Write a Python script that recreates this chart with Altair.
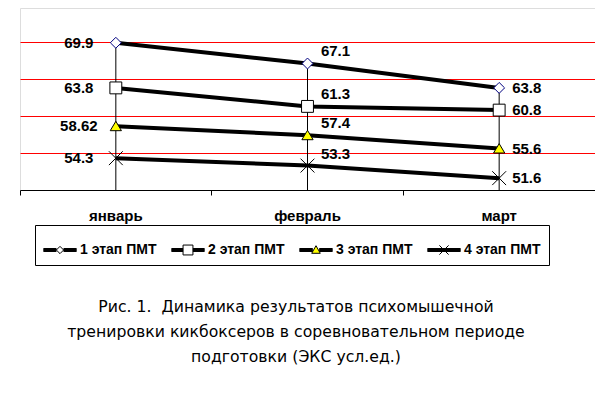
import altair as alt
import pandas as pd

months = ["январь", "февраль", "март"]
series = ["1 этап ПМТ", "2 этап ПМТ", "3 этап ПМТ", "4 этап ПМТ"]
stage1 = [69.9, 67.1, 63.8]
stage2 = [63.8, 61.3, 60.8]
stage3 = [58.62, 57.4, 55.6]
stage4 = [54.3, 53.3, 51.6]
caption = [
    "Рис. 1.\u00a0 Динамика результатов психомышечной",
    "тренировки кикбоксеров в соревновательном периоде",
    "подготовки (ЭКС усл.ед.)",
]

rows = []
for s, vals in zip(series, [stage1, stage2, stage3, stage4]):
    for m, v in zip(months, vals):
        rows.append({"month": m, "series": s, "value": v, "label": f"{v:g}"})
df = pd.DataFrame(rows)

FONT = "Liberation Sans"

# chart markers (custom symbol paths)
diamond = "M0,-0.33L0.33,0L0,0.33L-0.33,0Z"
square = "M-0.36,-0.36H0.36V0.36H-0.36Z"
triangle = "M0,-0.3L0.34,0.27L-0.34,0.27Z"
xmark = "M-0.42,-0.42L0.42,0.42M-0.42,0.42L0.42,-0.42"


def bar(x0, x1):
    # thick legend line built from several thin strokes
    return "".join(f"M{x0},{y}H{x1}" for y in (-0.09, -0.06, -0.03, 0, 0.03, 0.06, 0.09))


leg_diamond = bar(-1, -0.22) + bar(0.22, 1) + "M0,-0.22L0.22,0L0,0.22L-0.22,0Z"
leg_square = bar(-1, -0.3) + bar(0.3, 1) + "M-0.3,-0.3H0.3V0.3H-0.3Z"
leg_triangle = bar(-1, -0.2) + bar(0.2, 1) + "M0,-0.26L0.26,0.2L-0.26,0.2Z"
leg_x = bar(-1, 1) + "M-0.28,-0.28L0.28,0.28M-0.28,0.28L0.28,-0.28"

x_enc = alt.X(
    "month:N", sort=months,
    scale=alt.Scale(type="band", paddingInner=0, paddingOuter=0),
    axis=alt.Axis(title=None, labelAngle=0, bandPosition=0, domainColor="black",
                  tickColor="black", tickSize=5, labelPadding=13, labelFont=FONT,
                  labelFontSize=15, labelFontWeight="bold", labelColor="black"),
)
y_scale = alt.Scale(domain=[50, 74.6], nice=False, zero=False)
y_axis = alt.Axis(title=None, values=[55, 60, 65, 70], grid=True, gridColor="#ff0000",
                  gridWidth=1, labels=False, ticks=False, domain=False)
y_enc = alt.Y("value:Q", scale=y_scale, axis=y_axis)

leg = alt.Legend(orient="none", legendX=15, legendY=217, direction="horizontal", title=None,
                 labelFont=FONT, labelFontSize=14, labelFontWeight="bold", labelColor="black",
                 padding=8, symbolSize=1089, symbolStrokeWidth=1, symbolOpacity=1,
                 labelOffset=3, columnPadding=12, strokeColor="black", fillColor="white")

base = alt.Chart(df)

rules = base.transform_aggregate(
    top="max(value)", groupby=["month"]
).mark_rule(color="black", strokeWidth=1).encode(
    x=x_enc,
    y=alt.Y("top:Q", scale=y_scale, axis=y_axis),
    y2=alt.Y2(datum=50),
)

lines = base.mark_line(strokeWidth=4, color="black").encode(
    x=x_enc, y=y_enc, detail="series:N",
)

points = base.mark_point(filled=True, opacity=1, strokeWidth=1, size=1089).encode(
    x=x_enc, y=y_enc,
    shape=alt.Shape("series:N", scale=alt.Scale(domain=series, range=[diamond, square, triangle, xmark]), legend=None),
    fill=alt.Fill("series:N", scale=alt.Scale(domain=series, range=["white", "white", "#ffff00", "transparent"]), legend=None),
    stroke=alt.Stroke("series:N", scale=alt.Scale(domain=series, range=["#000080", "black", "black", "black"]), legend=None),
)

# legend-only layer (draws nothing in the plot)
legend_layer = base.transform_filter("false").mark_point(filled=True, opacity=1, strokeWidth=1).encode(
    x=x_enc, y=y_enc,
    shape=alt.Shape("series:N", scale=alt.Scale(domain=series, range=[leg_diamond, leg_square, leg_triangle, leg_x]), legend=leg),
    fill=alt.Fill("series:N", scale=alt.Scale(domain=series, range=["white", "white", "#ffff00", "transparent"]), legend=leg),
    stroke=alt.Stroke("series:N", scale=alt.Scale(domain=series, range=["black", "black", "black", "black"]), legend=leg),
)


def labels(month, **kw):
    return base.transform_filter(alt.datum.month == month).mark_text(
        font=FONT, fontSize=15, fontWeight="bold", color="black", baseline="middle", **kw
    ).encode(x=x_enc, y=y_enc, text="label:N")


lab_jan = labels(months[0], align="center", dx=-37)
lab_feb = labels(months[1], align="center", dx=28, dy=-12)
lab_mar = labels(months[2], align="left", dx=13)

chart = alt.layer(rules, lines, points, legend_layer, lab_jan, lab_feb, lab_mar).resolve_scale(
    shape="independent", fill="independent", stroke="independent"
).properties(
    width=575, height=182,
    autosize=alt.AutoSizeParams(type="none"),
    padding={"left": 12, "top": 0, "right": 0, "bottom": 190},
    title=alt.TitleParams(text=caption, orient="bottom", anchor="middle", fontSize=15.7,
                          fontWeight="normal", font="DejaVu Sans", color="black", offset=34,
                          lineHeight=25.3, dx=-11.5),
).configure_view(stroke="black", strokeWidth=1).configure(background="white")

chart.save("out.html", embed_options={"renderer": "svg", "actions": False})
